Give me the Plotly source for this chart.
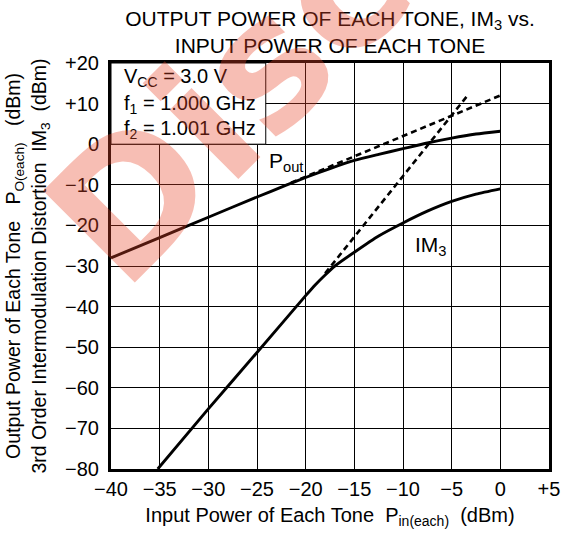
import plotly.graph_objects as go

# ---------------- data ----------------
pin_pout = [-40, -35, -30, -25, -22, -20, -17.5, -15, -12.5, -10, -7.5, -5, -2.5, 0]
pout = [-28, -23, -18, -13, -10.1, -8.2, -6.0, -4.0, -2.5, -1.1, 0.3, 1.5, 2.5, 3.2]

pin_im3 = [-35.2, -30, -25, -20, -19, -18, -17, -15, -12.5, -10, -7.5, -5, -2.5, 0]
im3 = [-80, -65.2, -51.3, -37.3, -34.6, -32.2, -30.0, -26.6, -22.6, -19.4, -16.5, -14.1, -12.3, -11.0]

pout_ext_x = [-21.5, 0]
pout_ext_y = [-9.5, 12]
im3_ext_x = [-18, -3.3]
im3_ext_y = [-31.8, 12.2]

x_tickvals = [-40, -35, -30, -25, -20, -15, -10, -5, 0, 5]
x_ticktext = ["\u221240", "\u221235", "\u221230", "\u221225", "\u221220", "\u221215",
              "\u221210", "\u22125", "0", "+5"]
y_tickvals = [-80, -70, -60, -50, -40, -30, -20, -10, 0, 10, 20]
y_ticktext = ["\u221280", "\u221270", "\u221260", "\u221250", "\u221240", "\u221230",
              "\u221220", "\u221210", "0", "+10", "+20"]

FONT = "Liberation Sans, Arial, Helvetica, sans-serif"
NB = "\u00a0"

fig = go.Figure()
fig.add_trace(go.Scatter(x=pin_pout, y=pout, mode="lines",
                         line=dict(color="black", width=2.9, shape="spline", smoothing=0.6),
                         showlegend=False, hoverinfo="skip"))
fig.add_trace(go.Scatter(x=pin_im3, y=im3, mode="lines",
                         line=dict(color="black", width=2.9, shape="spline", smoothing=0.6),
                         showlegend=False, hoverinfo="skip"))
fig.add_trace(go.Scatter(x=pout_ext_x, y=pout_ext_y, mode="lines",
                         line=dict(color="black", width=2.6, dash="6px,4px"),
                         showlegend=False, hoverinfo="skip"))
fig.add_trace(go.Scatter(x=im3_ext_x, y=im3_ext_y, mode="lines",
                         line=dict(color="black", width=2.6, dash="6px,4px"),
                         showlegend=False, hoverinfo="skip"))

# white condition box covering the grid in the upper-left corner
fig.add_shape(type="rect", xref="x", yref="y", x0=-40, x1=-24.1, y0=0, y1=20,
              fillcolor="white", line=dict(color="black", width=1), layer="between")

cond = [("V<sub>CC</sub> = 3.0 V", 16.5), ("f<sub>1</sub> = 1.000 GHz", 9.8),
        ("f<sub>2</sub> = 1.001 GHz", 3.6)]
for txt, yy in cond:
    fig.add_annotation(x=-38.9, y=yy, xref="x", yref="y", text=txt, showarrow=False,
                       xanchor="left", yanchor="middle",
                       font=dict(family=FONT, size=20, color="black"))

fig.add_annotation(x=-22.0, y=-4.5, xref="x", yref="y", text="P<sub>out</sub>",
                   showarrow=False, xanchor="center", yanchor="middle",
                   font=dict(family=FONT, size=21, color="black"))
fig.add_annotation(x=-7.1, y=-25.0, xref="x", yref="y", text="IM<sub>3</sub>",
                   showarrow=False, xanchor="center", yanchor="middle",
                   font=dict(family=FONT, size=21, color="black"))

# watermark
fig.add_annotation(x=0.993, y=1.685, xref="paper", yref="paper", text="Discontinued",
                   showarrow=False, textangle=-45, xanchor="center", yanchor="middle",
                   font=dict(family="DejaVu Sans, Verdana, sans-serif", size=178,
                             color="rgba(232,70,40,0.35)", weight="bold"))

fig.update_layout(
    width=572, height=535,
    margin=dict(l=107, r=12, t=63, b=59),
    paper_bgcolor="white", plot_bgcolor="white",
    font=dict(family=FONT, color="black"),
    title=dict(text="OUTPUT POWER OF EACH TONE, IM<sub>3</sub> vs.<br>INPUT POWER OF EACH TONE",
               x=0.5, xref="paper", xanchor="center",
               y=1 - 26 / 535, yref="container", yanchor="middle",
               font=dict(family=FONT, size=21, color="black")),
    xaxis=dict(range=[-40, 5], tickvals=x_tickvals, ticktext=x_ticktext,
               showgrid=True, gridcolor="black", gridwidth=1, zeroline=False,
               showline=True, mirror=True, linecolor="black", linewidth=3, ticks="",
               tickfont=dict(family=FONT, size=20, color="black"),
               title=dict(text="Input Power of Each Tone" + NB * 2 + "P<sub>in(each)</sub>" + NB * 2 + "(dBm)",
                          font=dict(family=FONT, size=20, color="black"), standoff=9)),
    yaxis=dict(range=[-80, 20], tickvals=y_tickvals, ticktext=y_ticktext,
               showgrid=True, gridcolor="black", gridwidth=1, zeroline=False,
               showline=True, mirror=True, linecolor="black", linewidth=3, ticks="",
               ticklabelstandoff=5,
               tickfont=dict(family=FONT, size=20, color="black"),
               title=dict(text="Output Power of Each Tone" + NB * 3 + "P<sub>O(each)</sub>" + NB * 3 + "(dBm)<br>"
                               "3rd Order Intermodulation Distortion" + NB * 2 + "IM<sub>3</sub>" + NB * 2 + "(dBm)",
                          font=dict(family=FONT, size=19.5, color="black"), standoff=14)),
)

fig.write_html("out.html", config={"displayModeBar": False},
               post_script="document.body.style.margin='0px';")
